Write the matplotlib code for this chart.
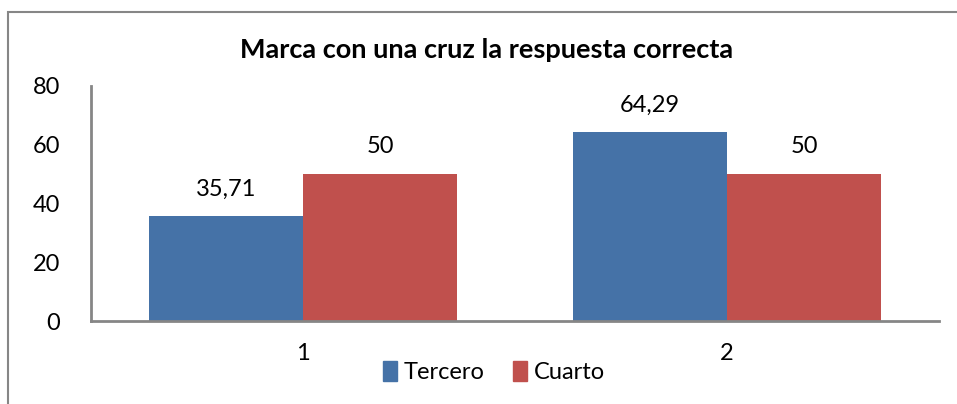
import matplotlib
matplotlib.use("Agg")
import matplotlib.pyplot as plt
import matplotlib.patches as mpatches

# ── data ──
categories = ["1", "2"]
tercero = [35.71, 64.29]
cuarto = [50, 50]
series_names = ["Tercero", "Cuarto"]
y_ticks = [0, 20, 40, 60, 80]

BLUE = "#4572A7"
RED = "#C0504D"
AXIS_GRAY = "#868686"

plt.rcParams["font.family"] = ["Lato", "DejaVu Sans"]

fig = plt.figure(figsize=(9.57, 4.04), dpi=100)
ax = fig.add_axes([91 / 957, 83 / 404, 848 / 957, 235 / 404])

x = list(range(1, len(categories) + 1))
w = 154 / 424
b1 = ax.bar([i - w / 2 for i in x], tercero, width=w, color=BLUE, label=series_names[0])
b2 = ax.bar([i + w / 2 for i in x], cuarto, width=w, color=RED, label=series_names[1])

for bars in (b1, b2):
    for rect in bars:
        h = rect.get_height()
        txt = f"{h:g}".replace(".", ",")
        ax.annotate(txt, (rect.get_x() + rect.get_width() / 2, h),
                    xytext=(0, 12), textcoords="offset points",
                    ha="center", va="bottom", fontsize=17)

ax.set_xlim(0.5, 2.5)
ax.set_ylim(0, 80)
ax.set_yticks(y_ticks)
ax.set_xticks(x)
ax.set_xticklabels(categories)
ax.tick_params(axis="both", length=0, labelsize=17, colors="black")
ax.tick_params(axis="y", pad=22)
ax.tick_params(axis="x", pad=16)
for s in ("top", "right"):
    ax.spines[s].set_visible(False)
for s in ("left", "bottom"):
    ax.spines[s].set_color(AXIS_GRAY)
    ax.spines[s].set_linewidth(2)

fig.text(487 / 957, 1 - 50 / 404, "Marca con una cruz la respuesta correcta",
         ha="center", va="center", fontsize=19.5, fontweight="bold")

handles = [mpatches.Patch(color=BLUE, label=series_names[0]),
           mpatches.Patch(color=RED, label=series_names[1])]
fig.legend(handles=handles, loc="center", bbox_to_anchor=(494 / 957, 1 - 372 / 404),
           ncol=2, frameon=False, fontsize=17, handlelength=0.6, handleheight=0.9,
           handletextpad=0.3, columnspacing=1.2)

# outer chart border (partly cropped)
fig.patches.append(mpatches.Rectangle((8 / 957, -0.1), 1.2, 1 - 12 / 404 + 0.1,
                                      transform=fig.transFigure, fill=False,
                                      edgecolor=AXIS_GRAY, linewidth=1.5))

fig.savefig("out.png", dpi=100)
